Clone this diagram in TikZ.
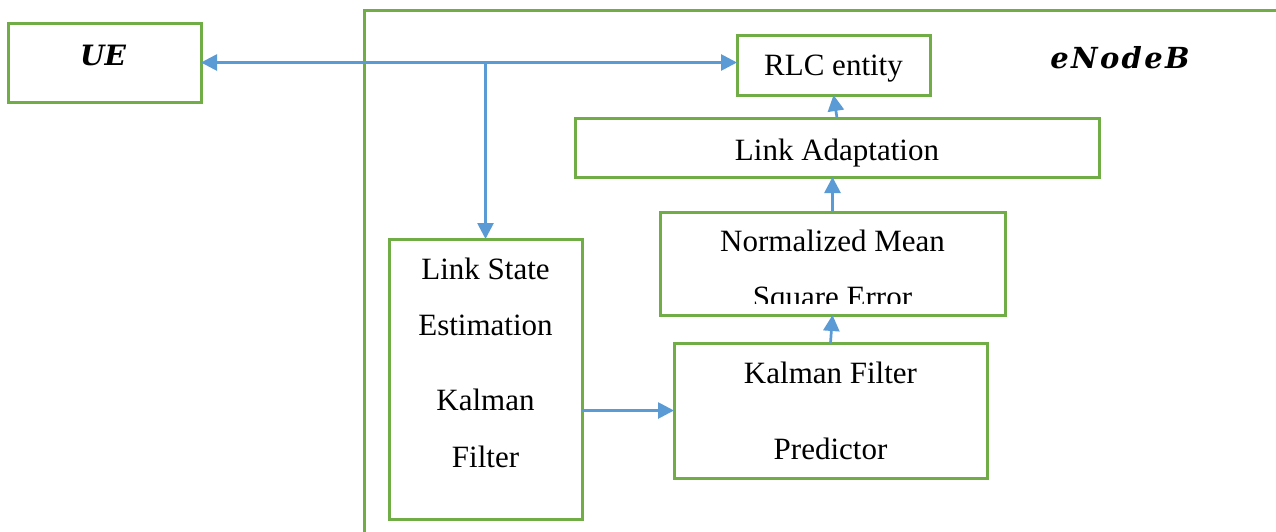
\documentclass[tikz,border=0pt]{standalone}
\usepackage{fontspec}
\setmainfont{Liberation Serif}
\newfontfamily\dvs{DejaVu Serif}
\newfontfamily\dvsw{DejaVu Serif}[LetterSpace=8]
\usetikzlibrary{arrows.meta}
\definecolor{grn}{HTML}{70AD47}
\definecolor{blu}{HTML}{5B9BD5}
\begin{document}
\begin{tikzpicture}[x=1pt,y=-1pt,
  box/.style={draw=grn,line width=3pt,inner sep=0pt,outer sep=0pt,rectangle},
  lbl/.style={anchor=base,inner sep=0pt,font=\fontsize{31}{37}\selectfont},
  mlbl/.style={anchor=base,inner sep=0pt,font=\dvs\bfseries\itshape\fontsize{28}{34}\selectfont},
  wlbl/.style={anchor=base,inner sep=0pt,font=\dvsw\bfseries\itshape\fontsize{29}{34}\selectfont},
  conn/.style={draw=blu,line width=2.7pt,-{Triangle[length=16pt,width=16pt]}},
  conn2/.style={draw=blu,line width=2.7pt,{Triangle[length=16pt,width=16pt]}-{Triangle[length=16pt,width=16pt]}},
]
\useasboundingbox (0,0) rectangle (1276,531);
\fill[white] (0,0) rectangle (1276,531);
\begin{scope}
\clip (0,0) rectangle (1276,531);
\draw[grn,line width=3pt] (364.5,545) -- (364.5,10.5) -- (1290,10.5);
\end{scope}

\node[box,minimum width=192.5pt,minimum height=79pt] (UE) at (104.75,62.5) {};
\node[box,minimum width=193pt,minimum height=60pt] (RLC) at (833.5,65) {};
\node[box,minimum width=524pt,minimum height=59pt] (LA) at (837,147.5) {};
\node[box,minimum width=345pt,minimum height=103pt] (NMSE) at (832.5,263.5) {};
\node[box,minimum width=313pt,minimum height=135pt] (KFP) at (830.5,410.5) {};
\node[box,minimum width=193pt,minimum height=280pt] (LSE) at (485.5,379) {};

\node[mlbl] (tUE) at (103,65) {UE};
\node[wlbl] (tEN) at (1120,68) {eNodeB};
\node[lbl] (tRLC) at (833.5,75) {RLC entity};
\node[lbl] (tLA) at (837,160) {Link Adaptation};
\node[lbl] (tN1) at (832.5,251) {Normalized Mean};
\begin{scope}
\clip (600,200) rectangle (1100,303);
\node[lbl] (tN2) at (832.5,307) {Square Error};
\end{scope}
\node[lbl] (tK1) at (830.5,383) {Kalman Filter};
\node[lbl] (tK2) at (830.5,459) {Predictor};
\node[lbl] (tL1) at (485.5,279) {Link State};
\node[lbl] (tL2) at (485.5,335) {Estimation};
\node[lbl] (tL3) at (485.5,410) {Kalman};
\node[lbl] (tL4) at (485.5,467) {Filter};

\coordinate (j) at (LSE.north |- UE.east);
\draw[conn2] (UE.east) -- (UE.east -| RLC.west);
\draw[conn] (j) -- (LSE.north);
\draw[conn] (KFP.west -| LSE.east) -- (KFP.west);
\draw[conn] (KFP.north) -- (NMSE.south);
\draw[conn] (NMSE.north) -- (NMSE.north |- LA.south);
\draw[conn] (LA.north) -- (RLC.south);
\end{tikzpicture}
\end{document}
